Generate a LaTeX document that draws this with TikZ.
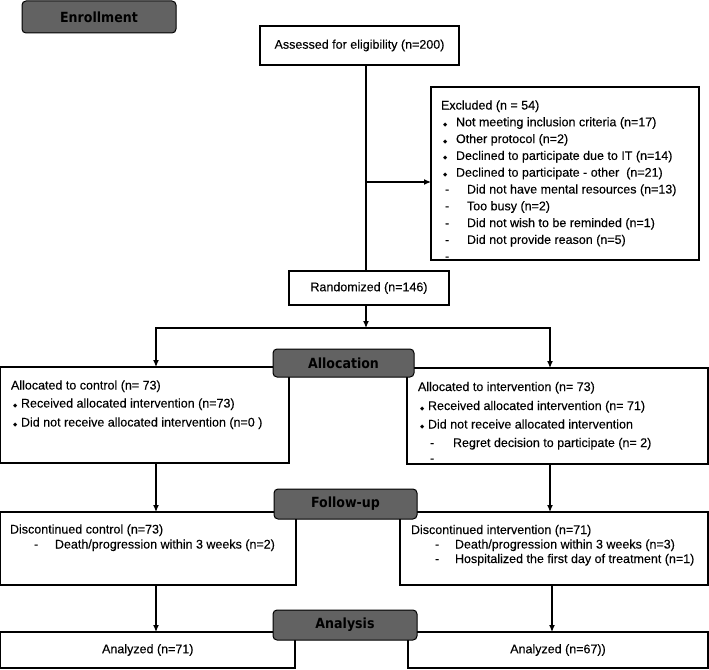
\documentclass[tikz,border=0pt]{standalone}
\usepackage{fontspec}
\setmainfont{Liberation Sans}[FakeBold=0.2]
\newfontfamily\hdrfont{DejaVu Sans Condensed}
\newfontfamily\symf{DejaVu Sans}
\usetikzlibrary{arrows.meta}
\definecolor{hdrgray}{RGB}{98,98,98}
\newcommand\dmd{{\symf\fontsize{5.5}{6}\selectfont ◆}}
\tikzset{
  box/.style={draw, line width=1.2pt, rectangle, inner sep=0pt, outer sep=0pt, align=center, font=\fontsize{12.5}{15}\selectfont},
  hdr/.style={draw, line width=1pt, fill=hdrgray, rounded corners=4pt, inner sep=0pt, outer sep=0pt, font=\hdrfont\bfseries\fontsize{14}{14}\selectfont},
  txt/.style={anchor=base west, inner sep=0pt, outer sep=0pt, font=\fontsize{12.5}{15}\selectfont},
  ln/.style={line width=1.2pt},
  arr/.style={line width=1.2pt, -{Latex[length=7pt,width=6pt]}}
}
\begin{document}
\begin{tikzpicture}[x=1pt,y=-1pt]
\useasboundingbox (0,0) rectangle (709,669);
% boxes
\node[box, minimum width=199pt, minimum height=39pt] (assess) at (359.5,45.5) {Assessed for eligibility (n=200)};
\node[box, minimum width=268pt, minimum height=173pt] (excl) at (565,173.5) {};
\node[box, minimum width=160pt, minimum height=34pt] (rand) at (369,288) {Randomized (n=146)};
\node[box, minimum width=288.4pt, minimum height=96pt] (allocL) at (144.8,415) {};
\node[box, minimum width=301pt, minimum height=96pt] (allocR) at (557.5,416) {};
\node[box, minimum width=295.4pt, minimum height=73pt] (fuL) at (148.3,548.5) {};
\node[box, minimum width=308pt, minimum height=73pt] (fuR) at (554,548.5) {};
\node[box, minimum width=294.4pt, minimum height=36pt] (anL) at (147.8,650) {Analyzed (n=71)};
\node[box, minimum width=300pt, minimum height=36pt] (anR) at (558,650) {Analyzed (n=67))};
% headers
\node[hdr, minimum width=154pt, minimum height=32pt] (enr) at (99,17) {Enrollment};
\node[hdr, minimum width=141pt, minimum height=28pt] (alloc) at (343.5,363) {Allocation};
\node[hdr, minimum width=143pt, minimum height=30pt] (fu) at (345.5,504) {Follow-up};
\node[hdr, minimum width=144pt, minimum height=30pt] (an) at (345,625) {Analysis};
% excluded text
\node[txt] (ex0) at (441,109.5) {Excluded (n = 54)};
\node[txt] (ex1) at (443,126.3) {\makebox[13pt][l]{\dmd}Not meeting inclusion criteria (n=17)};
\node[txt] (ex2) at (443,143.1) {\makebox[13pt][l]{\dmd}Other protocol (n=2)};
\node[txt] (ex3) at (443,159.9) {\makebox[13pt][l]{\dmd}Declined to participate due to IT (n=14)};
\node[txt] (ex4) at (443,176.7) {\makebox[13pt][l]{\dmd}Declined to participate - other\ \ (n=21)};
\node[txt] (ex5) at (445,193.5) {\makebox[22pt][l]{-}Did not have mental resources (n=13)};
\node[txt] (ex6) at (445,210.3) {\makebox[22pt][l]{-}Too busy (n=2)};
\node[txt] (ex7) at (445,227.1) {\makebox[22pt][l]{-}Did not wish to be reminded (n=1)};
\node[txt] (ex8) at (445,243.9) {\makebox[22pt][l]{-}Did not provide reason (n=5)};
\node[txt] (ex9) at (445,260.5) {-};
% allocation left
\node[txt] (al0) at (11,389.5) {Allocated to control (n= 73)};
\node[txt] (al1) at (13,407.5) {\makebox[8pt][l]{\dmd}Received allocated intervention (n=73)};
\node[txt] (al2) at (13,426.5) {\makebox[8pt][l]{\dmd}Did not receive allocated intervention (n=0 )};
% allocation right
\node[txt] (ar0) at (418,391) {Allocated to intervention (n= 73)};
\node[txt] (ar1) at (420,410) {\makebox[8pt][l]{\dmd}Received allocated intervention (n= 71)};
\node[txt] (ar2) at (420,428.5) {\makebox[8pt][l]{\dmd}Did not receive allocated intervention};
\node[txt] (ar3) at (430,447) {\makebox[23pt][l]{-}Regret decision to participate (n= 2)};
\node[txt] (ar4) at (430,462.5) {-};
% follow-up left
\node[txt] (fl0) at (10,533.5) {Discontinued control (n=73)};
\node[txt] (fl1) at (34,548.5) {\makebox[21pt][l]{-}Death/progression within 3 weeks (n=2)};
% follow-up right
\node[txt] (fr0) at (411,534) {Discontinued intervention (n=71)};
\node[txt] (fr1) at (435,548.5) {\makebox[20pt][l]{-}Death/progression within 3 weeks (n=3)};
\node[txt] (fr2) at (435,563) {\makebox[20pt][l]{-}Hospitalized the first day of treatment (n=1)};
% connector coordinates
\coordinate (tx) at (366,0);
\coordinate (br) at (366,182);
\coordinate (split) at (366,328);
\coordinate (cl) at (156,0);
\coordinate (cr) at (550,0);
\coordinate (cr2) at (552,0);
% connectors
\draw[ln] (assess.south -| tx) -- (rand.north -| tx);
\draw[arr] (br) -- (br -| excl.west);
\draw[arr] (rand.south -| tx) -- (split);
\draw[arr] (split) -- (split -| cl) -- (allocL.north -| cl);
\draw[arr] (split) -- (split -| cr) -- (allocR.north -| cr);
\draw[arr] (allocL.south -| cl) -- (fuL.north -| cl);
\draw[arr] (allocR.south -| cr) -- (fuR.north -| cr);
\draw[arr] (fuL.south -| cl) -- (anL.north -| cl);
\draw[arr] (fuR.south -| cr2) -- (anR.north -| cr2);
\end{tikzpicture}
\end{document}
